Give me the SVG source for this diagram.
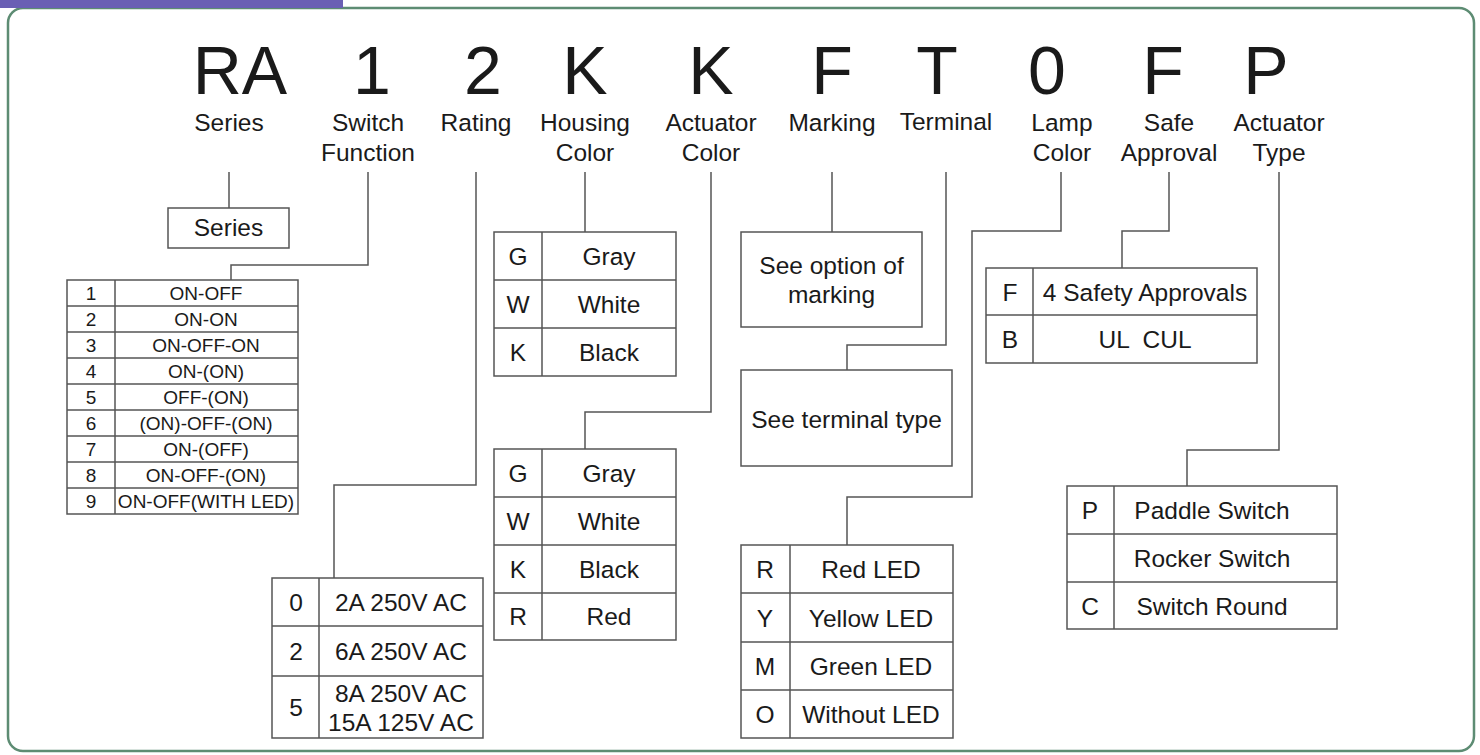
<svg xmlns="http://www.w3.org/2000/svg" width="1480" height="755" viewBox="0 0 1480 755">
<style>
text{font-family:"Liberation Sans",Arial,sans-serif;fill:#1a1a1a;text-anchor:middle}
.big{font-size:68px}
.lbl{font-size:24.5px}
.t{font-size:24.5px}
.s{font-size:19px}
.box{fill:#fff;stroke:#555;stroke-width:1.5}
.ln{fill:none;stroke:#555;stroke-width:1.5}
.con{fill:none;stroke:#555;stroke-width:1.5}
</style>
<rect x="0" y="0" width="1480" height="755" fill="#fff"/>
<rect x="8" y="8" width="1466" height="743" rx="15" fill="none" stroke="#5d8c73" stroke-width="2.5"/>
<rect x="0" y="0" width="343" height="8" fill="#6a5fb4"/>

<g id="code">
<text class="big" x="240" y="94">RA</text>
<text class="big" x="372" y="94">1</text>
<text class="big" x="483" y="94">2</text>
<text class="big" x="585" y="94">K</text>
<text class="big" x="711" y="94">K</text>
<text class="big" x="832" y="94">F</text>
<text class="big" x="937" y="94">T</text>
<text class="big" x="1047" y="94">0</text>
<text class="big" x="1163" y="94">F</text>
<text class="big" x="1266" y="94">P</text>
</g>
<g id="labels">
<text class="lbl" x="229" y="131">Series</text>
<text class="lbl" x="368" y="131">Switch</text>
<text class="lbl" x="368" y="161">Function</text>
<text class="lbl" x="476" y="131">Rating</text>
<text class="lbl" x="585" y="131">Housing</text>
<text class="lbl" x="585" y="161">Color</text>
<text class="lbl" x="711" y="131">Actuator</text>
<text class="lbl" x="711" y="161">Color</text>
<text class="lbl" x="832" y="131">Marking</text>
<text class="lbl" x="946" y="130">Terminal</text>
<text class="lbl" x="1062" y="131">Lamp</text>
<text class="lbl" x="1062" y="161">Color</text>
<text class="lbl" x="1169" y="131">Safe</text>
<text class="lbl" x="1169" y="161">Approval</text>
<text class="lbl" x="1279" y="131">Actuator</text>
<text class="lbl" x="1279" y="161">Type</text>
</g>

<g id="connectors">
<path class="con" d="M229 172 V208"/>
<path class="con" d="M368 172 V265 H231 V280"/>
<path class="con" d="M476 172 V485 H334 V578"/>
<path class="con" d="M585 172 V232"/>
<path class="con" d="M711 172 V412 H585 V449"/>
<path class="con" d="M832 172 V232"/>
<path class="con" d="M946 172 V345 H847 V370"/>
<path class="con" d="M1061 172 V231 H972 V497 H847 V545"/>
<path class="con" d="M1169 172 V231 H1122 V268"/>
<path class="con" d="M1279 172 V450 H1187 V486"/>
</g>

<g id="series-box">
<rect class="box" x="168" y="208" width="121" height="40"/>
<text class="t" x="228.5" y="236">Series</text>
</g>

<g id="switch-function-table">
<rect class="box" x="67" y="280" width="231" height="234"/>
<path class="ln" d="M115 280 V514 M67 306 H298 M67 332 H298 M67 358 H298 M67 384 H298 M67 410 H298 M67 436 H298 M67 462 H298 M67 488 H298"/>
<text class="s" x="91" y="300">1</text><text class="s" x="206" y="300">ON-OFF</text>
<text class="s" x="91" y="326">2</text><text class="s" x="206" y="326">ON-ON</text>
<text class="s" x="91" y="352">3</text><text class="s" x="206" y="352">ON-OFF-ON</text>
<text class="s" x="91" y="378">4</text><text class="s" x="206" y="378">ON-(ON)</text>
<text class="s" x="91" y="404">5</text><text class="s" x="206" y="404">OFF-(ON)</text>
<text class="s" x="91" y="430">6</text><text class="s" x="206" y="430">(ON)-OFF-(ON)</text>
<text class="s" x="91" y="456">7</text><text class="s" x="206" y="456">ON-(OFF)</text>
<text class="s" x="91" y="482">8</text><text class="s" x="206" y="482">ON-OFF-(ON)</text>
<text class="s" x="91" y="508">9</text><text class="s" x="206" y="508">ON-OFF(WITH LED)</text>
</g>

<g id="rating-table">
<rect class="box" x="272" y="578" width="211" height="160"/>
<path class="ln" d="M319 578 V738 M272 626 H483 M272 676 H483"/>
<text class="t" x="296" y="611">0</text><text class="t" x="401" y="611">2A 250V AC</text>
<text class="t" x="296" y="660">2</text><text class="t" x="401" y="660">6A 250V AC</text>
<text class="t" x="296" y="716">5</text><text class="t" x="401" y="702">8A 250V AC</text><text class="t" x="401" y="731">15A 125V AC</text>
</g>

<g id="housing-color-table">
<rect class="box" x="494" y="232" width="182" height="144"/>
<path class="ln" d="M542 232 V376 M494 280 H676 M494 328 H676"/>
<text class="t" x="518" y="265">G</text><text class="t" x="609" y="265">Gray</text>
<text class="t" x="518" y="313">W</text><text class="t" x="609" y="313">White</text>
<text class="t" x="518" y="361">K</text><text class="t" x="609" y="361">Black</text>
</g>

<g id="actuator-color-table">
<rect class="box" x="494" y="449" width="182" height="191"/>
<path class="ln" d="M542 449 V640 M494 497 H676 M494 545 H676 M494 593 H676"/>
<text class="t" x="518" y="482">G</text><text class="t" x="609" y="482">Gray</text>
<text class="t" x="518" y="530">W</text><text class="t" x="609" y="530">White</text>
<text class="t" x="518" y="578">K</text><text class="t" x="609" y="578">Black</text>
<text class="t" x="518" y="625">R</text><text class="t" x="609" y="625">Red</text>
</g>

<g id="marking-box">
<rect class="box" x="741" y="232" width="181" height="95"/>
<text class="t" x="831.5" y="274">See option of</text>
<text class="t" x="831.5" y="303">marking</text>
</g>

<g id="terminal-box">
<rect class="box" x="741" y="370" width="211" height="96"/>
<text class="t" x="846.5" y="428">See terminal type</text>
</g>

<g id="lamp-color-table">
<rect class="box" x="741" y="545" width="212" height="193"/>
<path class="ln" d="M790 545 V738 M741 593 H953 M741 642 H953 M741 690 H953"/>
<text class="t" x="765" y="578">R</text><text class="t" x="871" y="578">Red LED</text>
<text class="t" x="765" y="627">Y</text><text class="t" x="871" y="627">Yellow LED</text>
<text class="t" x="765" y="675">M</text><text class="t" x="871" y="675">Green LED</text>
<text class="t" x="765" y="723">O</text><text class="t" x="871" y="723">Without LED</text>
</g>

<g id="safe-approval-table">
<rect class="box" x="986" y="268" width="271" height="95"/>
<path class="ln" d="M1033 268 V363 M986 315 H1257"/>
<text class="t" x="1010" y="301">F</text><text class="t" x="1145" y="301">4 Safety Approvals</text>
<text class="t" x="1010" y="348">B</text><text class="t" x="1145" y="348" xml:space="preserve">UL  CUL</text>
</g>

<g id="actuator-type-table">
<rect class="box" x="1067" y="486" width="270" height="143"/>
<path class="ln" d="M1114 486 V629 M1067 534 H1337 M1067 582 H1337"/>
<text class="t" x="1090" y="519">P</text><text class="t" x="1212" y="519">Paddle Switch</text>
<text class="t" x="1212" y="567">Rocker Switch</text>
<text class="t" x="1090" y="615">C</text><text class="t" x="1212" y="615">Switch Round</text>
</g>
</svg>
